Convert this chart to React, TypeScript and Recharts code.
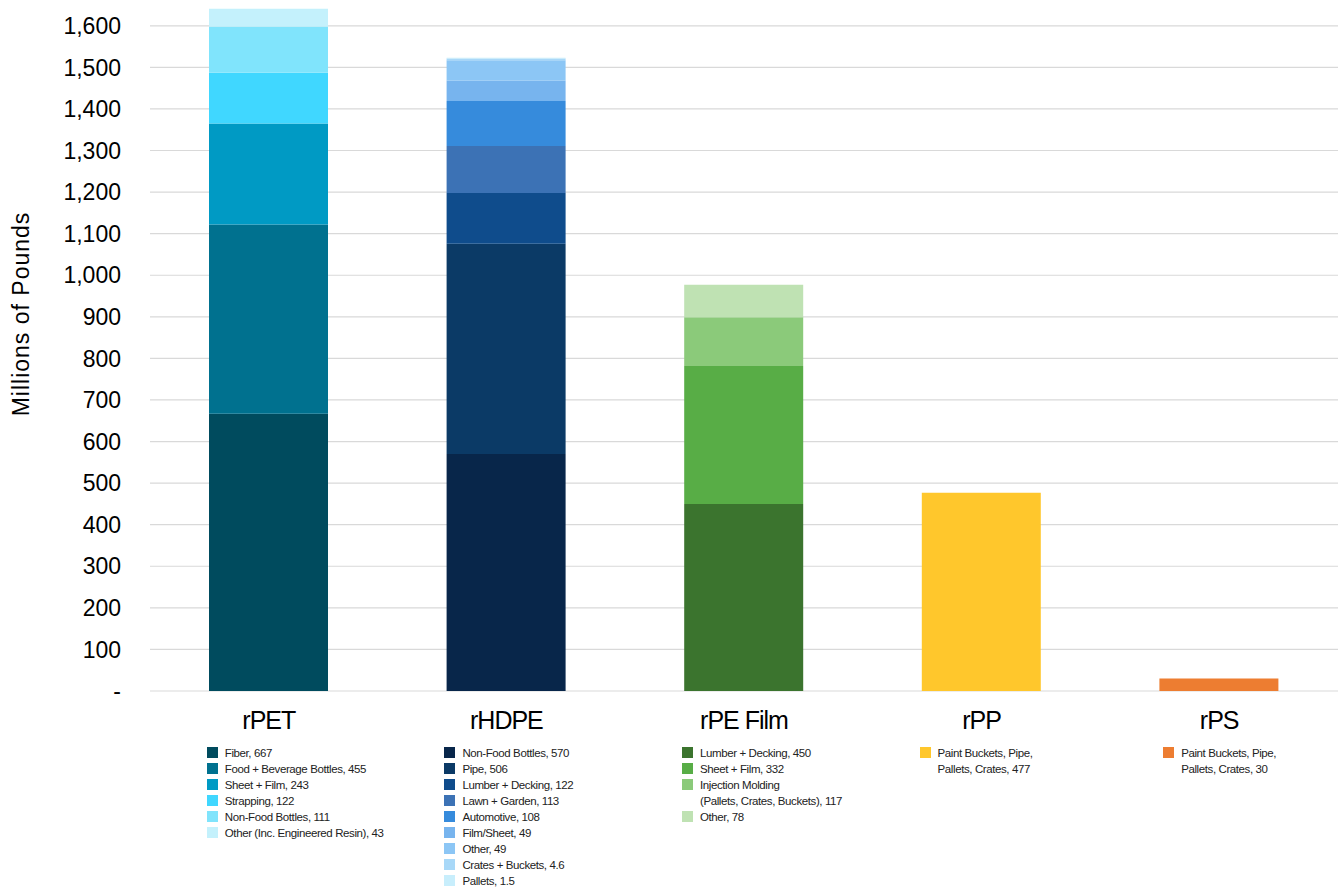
import React from "react";
import { BarChart, Bar, XAxis, YAxis, CartesianGrid } from "recharts";

const categories = ["rPET", "rHDPE", "rPE Film", "rPP", "rPS"];

const petNames = ["Fiber", "Food + Beverage Bottles", "Sheet + Film", "Strapping", "Non-Food Bottles", "Other (Inc. Engineered Resin)"];
const petValues = [667, 455, 243, 122, 111, 43];
const petColors = ["#004b5e", "#00718f", "#009ac4", "#40d7ff", "#80e4fc", "#c4f1fc"];

const hdpeNames = ["Non-Food Bottles", "Pipe", "Lumber + Decking", "Lawn + Garden", "Automotive", "Film/Sheet", "Other", "Crates + Buckets", "Pallets"];
const hdpeValues = [570, 506, 122, 113, 108, 49, 49, 4.6, 1.5];
const hdpeColors = ["#08264a", "#0b3a66", "#0f4c8c", "#3c72b5", "#368bdc", "#77b4ee", "#8cc6f5", "#a8d8f8", "#c8eefc"];

const filmNames = ["Lumber + Decking", "Sheet + Film", "Injection Molding\n(Pallets, Crates, Buckets)", "Other"];
const filmValues = [450, 332, 117, 78];
const filmColors = ["#3b742e", "#58ad46", "#8bca7a", "#bfe2b3"];

const ppNames = ["Paint Buckets, Pipe,\nPallets, Crates"];
const ppValues = [477];
const ppColors = ["#ffc72c"];

const psNames = ["Paint Buckets, Pipe,\nPallets, Crates"];
const psValues = [30];
const psColors = ["#ed7d31"];

const yTicks = [0, 100, 200, 300, 400, 500, 600, 700, 800, 900, 1000, 1100, 1200, 1300, 1400, 1500, 1600];

const groups = [
  { names: petNames, values: petValues, colors: petColors },
  { names: hdpeNames, values: hdpeValues, colors: hdpeColors },
  { names: filmNames, values: filmValues, colors: filmColors },
  { names: ppNames, values: ppValues, colors: ppColors },
  { names: psNames, values: psValues, colors: psColors },
];

const data = categories.map((c, i) => {
  const row: Record<string, any> = { category: c };
  groups[i].values.forEach((v, j) => {
    row[`s${i}_${j}`] = v;
  });
  return row;
});

const FONT = '"Liberation Sans", Arial, sans-serif';
const CHART_W = 1338;
const CHART_H = 740;
const PLOT_LEFT = 150;
const BAND = (CHART_W - PLOT_LEFT) / categories.length;

const fmt = (v: number) => (v === 0 ? "-" : v.toLocaleString("en-US"));

export default function App() {
  return (
    <div style={{ position: "absolute", left: 0, top: 0, width: 1338, height: 888, background: "#fff", fontFamily: FONT }}>
      <BarChart width={CHART_W} height={CHART_H} data={data} margin={{ top: 5, right: 0, left: 0, bottom: 0 }} barSize={119}>
        <CartesianGrid vertical={false} stroke="#d9d9d9" strokeWidth={1.2} horizontalValues={yTicks} />
        <XAxis
          dataKey="category"
          axisLine={false}
          tickLine={false}
          tickSize={0}
          tickMargin={20}
          height={49}
          tick={{ fontSize: 25, fill: "#000", fontFamily: FONT, letterSpacing: -1 }}
          interval={0}
        />
        <YAxis
          width={PLOT_LEFT}
          domain={[0, 1650]}
          ticks={yTicks}
          tickFormatter={fmt}
          axisLine={false}
          tickLine={false}
          tickSize={0}
          tickMargin={29}
          tick={{ fontSize: 23, fill: "#000", fontFamily: FONT }}
          label={() => (
            <text x={29} y={314} transform="rotate(-90 29 314)" textAnchor="middle" fontSize={23} letterSpacing={1} fill="#000" fontFamily={FONT}>
              Millions of Pounds
            </text>
          )}
        />
        {groups.flatMap((g, i) =>
          g.values.map((_, j) => (
            <Bar key={`s${i}_${j}`} dataKey={`s${i}_${j}`} stackId="a" fill={g.colors[j]} isAnimationActive={false} />
          ))
        )}
      </BarChart>
      {groups.map((g, i) => (
        <div
          key={i}
          style={{ position: "absolute", top: 745, left: PLOT_LEFT + (i + 0.5) * BAND - 62 + (i === 4 ? 6 : 0), fontSize: 11.5, letterSpacing: -0.4, lineHeight: "16px", color: "#222" }}
        >
          {g.names.map((n, j) => (
            <div key={j} style={{ display: "flex", alignItems: "flex-start" }}>
              <div style={{ width: 11, height: 11, background: g.colors[j], marginTop: 2, marginRight: 7, flexShrink: 0 }} />
              <div style={{ whiteSpace: "pre-line" }}>{`${n}, ${g.values[j]}`}</div>
            </div>
          ))}
        </div>
      ))}
    </div>
  );
}
